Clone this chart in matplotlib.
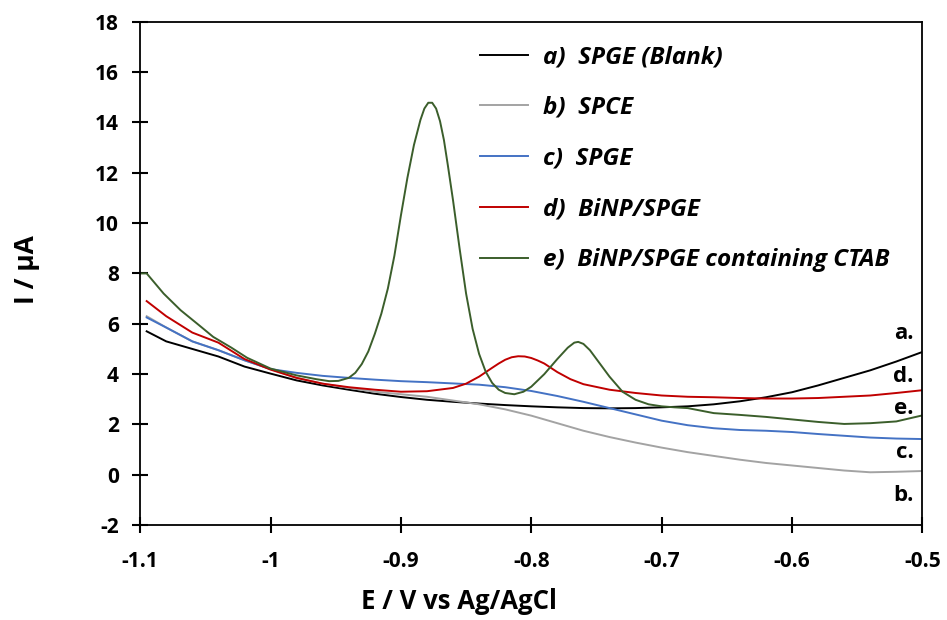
import matplotlib.pyplot as plt

plt.rcParams['font.family'] = ['Open Sans', 'DejaVu Sans']
plt.rcParams['font.weight'] = 'bold'
plt.rcParams['axes.unicode_minus'] = False

# a) SPGE (Blank)
x_a = [-1.095, -1.08, -1.06, -1.04, -1.02, -1.0, -0.98, -0.96, -0.94, -0.92, -0.90,
       -0.88, -0.86, -0.84, -0.82, -0.80, -0.78, -0.76, -0.74, -0.72, -0.70, -0.68,
       -0.66, -0.64, -0.62, -0.60, -0.58, -0.56, -0.54, -0.52, -0.50]
y_a = [5.7, 5.3, 5.0, 4.7, 4.3, 4.02, 3.75, 3.55, 3.38, 3.22, 3.09,
       2.98, 2.9, 2.83, 2.77, 2.72, 2.68, 2.65, 2.64, 2.65, 2.68, 2.72,
       2.80, 2.92, 3.08, 3.28, 3.55, 3.85, 4.15, 4.5, 4.88]

# b) SPCE
x_b = x_a
y_b = [6.3, 5.85, 5.3, 4.95, 4.55, 4.2, 3.85, 3.62, 3.45, 3.3, 3.2,
       3.1, 2.95, 2.8, 2.6, 2.35, 2.05, 1.75, 1.5, 1.28, 1.08, 0.9,
       0.75, 0.6, 0.47, 0.37, 0.27, 0.17, 0.1, 0.12, 0.15]

# c) SPGE
x_c = x_a
y_c = [6.25, 5.85, 5.3, 4.95, 4.55, 4.2, 4.05, 3.93, 3.85, 3.78, 3.72,
       3.68, 3.63, 3.58, 3.48, 3.33, 3.13, 2.9, 2.65, 2.4, 2.15, 1.97,
       1.85, 1.78, 1.75, 1.7, 1.62, 1.55, 1.48, 1.44, 1.42]

# d) BiNP/SPGE
x_d = [-1.095, -1.08, -1.06, -1.04, -1.02, -1.0, -0.98, -0.96, -0.94, -0.92, -0.90,
       -0.88, -0.86, -0.85, -0.84, -0.83, -0.825, -0.82, -0.815, -0.81, -0.805, -0.80,
       -0.795, -0.79, -0.78, -0.77, -0.76, -0.74, -0.72, -0.70, -0.68, -0.66, -0.64,
       -0.62, -0.60, -0.58, -0.56, -0.54, -0.52, -0.50]
y_d = [6.9, 6.3, 5.65, 5.25, 4.6, 4.18, 3.85, 3.62, 3.48, 3.38, 3.3,
       3.32, 3.45, 3.62, 3.9, 4.25, 4.42, 4.57, 4.67, 4.71, 4.7, 4.64,
       4.54, 4.42, 4.08, 3.8, 3.6, 3.38, 3.25, 3.15, 3.1, 3.08, 3.05,
       3.03, 3.03, 3.05, 3.1, 3.15, 3.25, 3.36]

# e) BiNP/SPGE containing CTAB
x_e = [-1.1, -1.095, -1.082, -1.069, -1.055, -1.044, -1.03, -1.018, -1.0, -0.98,
       -0.965, -0.955, -0.948, -0.94, -0.935, -0.93, -0.925, -0.92, -0.915, -0.91,
       -0.905, -0.90, -0.895, -0.89, -0.885, -0.882, -0.879, -0.876, -0.873, -0.87,
       -0.867, -0.864, -0.86, -0.855, -0.85, -0.845, -0.84, -0.835, -0.83, -0.825,
       -0.82, -0.813, -0.806, -0.80, -0.79, -0.78, -0.772, -0.767, -0.764, -0.76,
       -0.755, -0.75, -0.74, -0.73, -0.72, -0.71, -0.70, -0.69, -0.68, -0.67,
       -0.66, -0.64, -0.62, -0.60, -0.58, -0.56, -0.54, -0.52, -0.50]
y_e = [8.0, 8.0, 7.2, 6.54, 5.95, 5.48, 5.05, 4.65, 4.22, 3.95,
       3.8, 3.72, 3.73, 3.85, 4.05, 4.4, 4.9, 5.6, 6.4, 7.4,
       8.7, 10.3, 11.8, 13.1, 14.1, 14.55, 14.78, 14.78, 14.55, 14.05,
       13.3, 12.3, 10.9, 9.0, 7.2, 5.8, 4.8, 4.1, 3.65, 3.38,
       3.25, 3.2, 3.3, 3.5, 4.0, 4.6, 5.05, 5.25, 5.28, 5.2,
       4.95, 4.6, 3.9, 3.3, 2.98, 2.8, 2.72, 2.68, 2.65, 2.55,
       2.45, 2.38, 2.3, 2.2, 2.1, 2.02, 2.05, 2.12, 2.36]

labels = ['a)  SPGE (Blank)', 'b)  SPCE', 'c)  SPGE', 'd)  BiNP/SPGE',
          'e)  BiNP/SPGE containing CTAB']
colors = ['#000000', '#a3a3a3', '#4472c4', '#c00000', '#3b5e2b']

end_tags = ['a.', 'd.', 'e.', 'c.', 'b.']
end_tag_y = [5.63, 3.89, 2.64, 0.9, -0.82]

fig = plt.figure(figsize=(9.47, 6.2), dpi=100)
ax = fig.add_axes([0.148, 0.153, 0.826, 0.812])

series = [(x_a, y_a), (x_b, y_b), (x_c, y_c), (x_d, y_d), (x_e, y_e)]
for (xs, ys), lab, col in zip(series, labels, colors):
    ax.plot(xs, ys, color=col, lw=1.4, label=lab)

for tag, ty in zip(end_tags, end_tag_y):
    ax.text(-0.507, ty, tag, ha='right', va='center', fontsize=16, fontweight='bold')

ax.set_xlim(-1.1, -0.5)
ax.set_ylim(-2, 18)
ax.set_xticks([-1.1, -1.0, -0.9, -0.8, -0.7, -0.6, -0.5])
ax.set_xticklabels(['-1.1', '-1', '-0.9', '-0.8', '-0.7', '-0.6', '-0.5'])
ax.set_yticks(range(-2, 19, 2))
ax.tick_params(direction='inout', length=11, width=1.5, labelsize=15)
ax.tick_params(axis='y', pad=10)
ax.tick_params(axis='x', pad=13)
for sp in ax.spines.values():
    sp.set_linewidth(1.3)

ax.set_xlabel('E / V vs Ag/AgCl', fontsize=18.5, fontweight='bold')
ax.xaxis.set_label_coords(0.408, -0.125)
ax.set_ylabel('I / µA', fontsize=19, fontweight='bold')
ax.yaxis.set_label_coords(-0.128, 0.507)

leg = ax.legend(loc='upper left', bbox_to_anchor=(0.406, 0.997), frameon=False,
                handlelength=2.0, handletextpad=0.62, labelspacing=1.1,
                prop={'size': 17.5, 'weight': 'bold', 'style': 'italic'})

fig.savefig('out.png', dpi=100)
